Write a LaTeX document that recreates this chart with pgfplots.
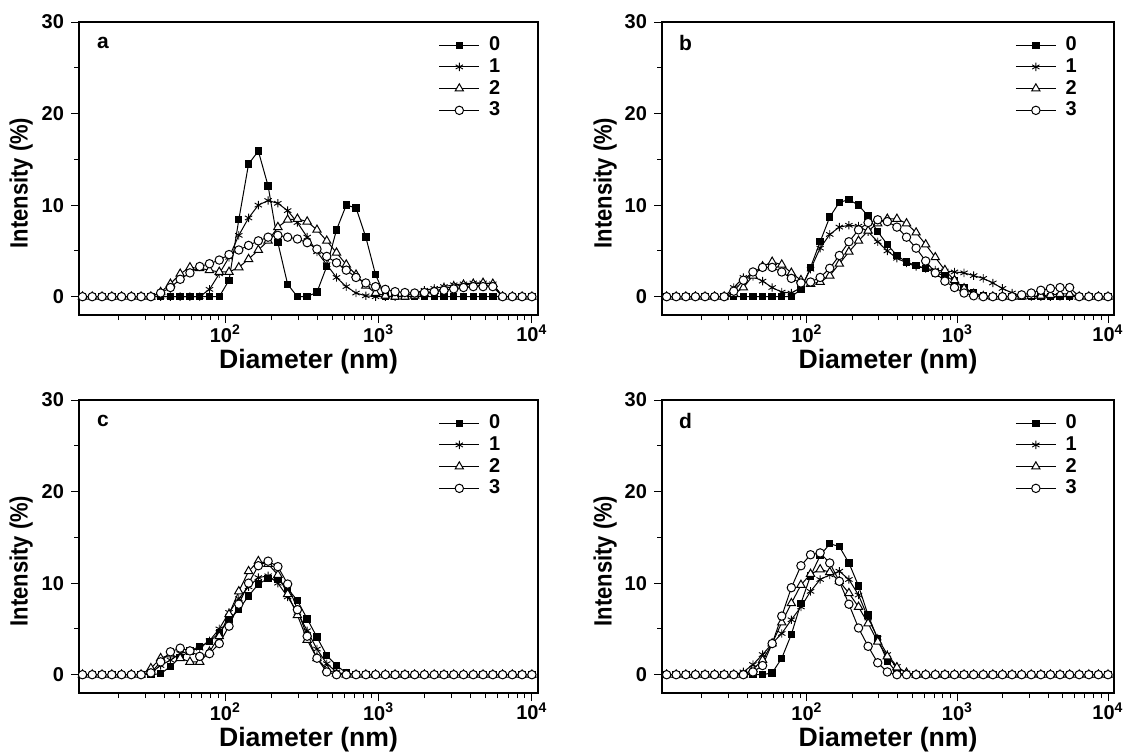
\documentclass[border=0pt]{standalone}
\usepackage{fontspec}
\setmainfont{Liberation Sans}
\usepackage{pgfplots}
\usepackage{pgfplotstable}
\pgfplotsset{compat=1.18}

% DLS intensity distributions, columns: diameter (nm), samples 0..3
\pgfplotstableread{
d s0 s1 s2 s3
11.70 0 0 0 0
13.54 0 0 0 0
15.69 0 0 0 0
18.17 0 0 0 0
21.04 0 0 0 0
24.36 0 0 0 0
28.21 0 0 0 0
32.67 0 0 0 0
37.84 0 0 0.5 0.4
43.82 0 0 1.4 1.0
50.75 0 0 2.5 1.9
58.77 0 0 3.2 2.6
68.06 0 0 3.1 3.3
78.82 0 0.8 2.9 3.6
91.28 0 2.5 2.7 4.0
105.7 1.8 4.3 2.7 4.6
122.4 8.4 6.7 3.2 5.1
141.8 14.5 8.6 4.1 5.6
164.2 15.9 10.0 5.1 6.1
190.1 12.1 10.5 6.1 6.5
220.2 5.9 10.2 7.6 6.7
255.0 1.35 9.4 8.4 6.5
295.3 0 8.1 8.5 6.3
342.0 0 6.5 8.2 5.9
396.1 0.5 4.9 7.3 5.2
458.7 3.3 3.5 6.1 4.4
531.2 7.3 2.1 4.8 3.7
615.1 10.0 1.1 3.5 2.9
712.4 9.7 0.4 2.4 2.1
825.0 6.5 0.1 1.2 1.5
955.4 2.4 0 0.4 1.1
1106 0 0 0.1 0.8
1281 0 0 0 0.55
1484 0 0.1 0 0.45
1718 0 0.4 0.1 0.4
1990 0 0.7 0.3 0.45
2305 0 0.9 0.6 0.55
2669 0 1.1 0.9 0.7
3091 0 1.3 1.1 0.85
3580 0 1.4 1.3 1.0
4145 0 1.5 1.4 1.1
4801 0 1.5 1.5 1.1
5560 0 1.4 1.4 1.1
6439 0 0 0 0
7456 0 0 0 0
8635 0 0 0 0
10000 0 0 0 0
}\dataa

\pgfplotstableread{
d s0 s1 s2 s3
11.70 0 0 0 0
13.54 0 0 0 0
15.69 0 0 0 0
18.17 0 0 0 0
21.04 0 0 0 0
24.36 0 0 0 0
28.21 0 0 0 0
32.67 0 1.0 0.3 0.6
37.84 0 2.1 1.0 1.8
43.82 0 2.2 2.3 2.7
50.75 0 1.7 3.3 3.2
58.77 0 1.0 3.8 3.2
68.06 0 0.5 3.5 2.7
78.82 0 0.4 2.6 2.0
91.28 0.8 1.0 1.8 1.5
105.7 3.2 3.0 1.4 1.6
122.4 6.0 5.3 1.6 2.1
141.8 8.7 6.8 2.3 3.1
164.2 10.3 7.6 3.6 4.5
190.1 10.6 7.8 4.9 6.0
220.2 10.0 7.7 6.1 7.3
255.0 8.8 7.1 7.2 8.1
295.3 7.1 6.0 8.0 8.4
342.0 5.7 5.0 8.5 8.2
396.1 4.5 4.2 8.5 7.6
458.7 3.8 3.7 8.0 6.5
531.2 3.4 3.3 7.0 5.3
615.1 3.1 3.1 5.7 3.9
712.4 2.6 2.9 4.3 2.6
825.0 2.3 2.8 2.9 1.7
955.4 1.7 2.7 1.8 1.0
1106 1.0 2.6 0.9 0.4
1281 0.4 2.3 0.3 0.1
1484 0.1 2.0 0.05 0
1718 0 1.5 0 0
1990 0 0.9 0 0
2305 0 0.4 0 0
2669 0 0.1 0 0.2
3091 0 0 0.05 0.4
3580 0 0 0.1 0.7
4145 0 0 0.2 0.9
4801 0 0 0.3 1.0
5560 0 0 0.3 1.0
6439 0 0 0 0
7456 0 0 0 0
8635 0 0 0 0
10000 0 0 0 0
}\datab

\pgfplotstableread{
d s0 s1 s2 s3
11.70 0 0 0 0
13.54 0 0 0 0
15.69 0 0 0 0
18.17 0 0 0 0
21.04 0 0 0 0
24.36 0 0 0 0
28.21 0 0 0 0
32.67 0 0.2 0.7 0.2
37.84 0.1 1.0 1.8 1.4
43.82 0.9 1.6 2.2 2.5
50.75 1.9 2.3 1.8 2.9
58.77 2.6 2.6 1.4 2.6
68.06 3.1 2.9 1.4 2.0
78.82 3.6 3.7 2.5 2.3
91.28 4.6 5.0 4.2 3.4
105.7 6.0 6.8 6.6 5.3
122.4 7.1 8.3 9.1 7.7
141.8 8.6 9.6 11.3 10.0
164.2 9.9 10.6 12.4 11.9
190.1 10.5 10.8 12.1 12.4
220.2 10.4 10.0 10.9 11.8
255.0 9.4 8.5 8.8 9.9
295.3 8.1 6.8 6.5 7.1
342.0 6.1 4.8 3.8 4.2
396.1 4.1 2.8 1.8 1.8
458.7 2.1 1.2 0.6 0.3
531.2 1.0 0.3 0.1 0
615.1 0.2 0 0 0
712.4 0 0 0 0
825.0 0 0 0 0
955.4 0 0 0 0
1106 0 0 0 0
1281 0 0 0 0
1484 0 0 0 0
1718 0 0 0 0
1990 0 0 0 0
2305 0 0 0 0
2669 0 0 0 0
3091 0 0 0 0
3580 0 0 0 0
4145 0 0 0 0
4801 0 0 0 0
5560 0 0 0 0
6439 0 0 0 0
7456 0 0 0 0
8635 0 0 0 0
10000 0 0 0 0
}\datac

\pgfplotstableread{
d s0 s1 s2 s3
11.70 0 0 0 0
13.54 0 0 0 0
15.69 0 0 0 0
18.17 0 0 0 0
21.04 0 0 0 0
24.36 0 0 0 0
28.21 0 0 0 0
32.67 0 0 0 0
37.84 0 0.3 0 0
43.82 0 1.1 0.6 0.3
50.75 0 2.2 1.6 1.0
58.77 0.2 3.4 3.4 3.4
68.06 1.8 4.5 5.7 6.4
78.82 4.4 6.0 7.8 9.5
91.28 7.8 7.4 9.8 11.9
105.7 10.8 9.1 11.0 13.1
122.4 13.0 10.4 11.5 13.3
141.8 14.3 10.9 11.2 12.2
164.2 14.0 11.3 10.2 10.2
190.1 12.2 10.4 8.9 7.7
220.2 9.7 8.7 7.4 5.1
255.0 6.5 6.2 5.6 3.1
295.3 3.9 4.0 3.6 1.3
342.0 1.5 2.2 2.0 0.3
396.1 0.2 0.9 0.8 0
458.7 0 0.2 0.2 0
531.2 0 0 0 0
615.1 0 0 0 0
712.4 0 0 0 0
825.0 0 0 0 0
955.4 0 0 0 0
1106 0 0 0 0
1281 0 0 0 0
1484 0 0 0 0
1718 0 0 0 0
1990 0 0 0 0
2305 0 0 0 0
2669 0 0 0 0
3091 0 0 0 0
3580 0 0 0 0
4145 0 0 0 0
4801 0 0 0 0
5560 0 0 0 0
6439 0 0 0 0
7456 0 0 0 0
8635 0 0 0 0
10000 0 0 0 0
}\datad

\pgfplotsset{
  dls/.style={
    scale only axis, height=146.5pt,
    ymin=-2, ymax=30,
    ytick={0,10,20,30}, minor ytick={5,15,25},
    xtick={100,1000,10000},
    xticklabels={10\textsuperscript{2},10\textsuperscript{3},10\textsuperscript{4}},
    minor xtick={20,30,40,50,60,70,80,90,200,300,400,500,600,700,800,900,2000,3000,4000,5000,6000,7000,8000,9000},
    tick align=outside, tick pos=left,
    major tick length=4pt, minor tick length=2.5pt,
    tick style={black, line width=0.5pt},
    axis line style={line width=0.6pt},
    tick label style={font=\fontsize{10}{11}\selectfont\bfseries},
    yticklabel style={/pgf/number format/assume math mode=true},
    xticklabel style={yshift=2.5pt},
    xlabel={Diameter (nm)},
    ylabel={\scalebox{0.88}[1]{Intensity (\%)}},
    xlabel style={font=\fontsize{13.3}{15}\selectfont\bfseries,
      at={(axis description cs:0.5,0)}, anchor=center, yshift=-23.5pt},
    ylabel style={font=\fontsize{12.5}{14}\selectfont\bfseries,
      at={(axis description cs:-0.126,0.45)}, anchor=center},
    legend style={draw=none, fill=none, at={(0.921,0.955)}, anchor=north east,
      font=\fontsize{10}{11}\selectfont\bfseries, inner sep=0pt, row sep=1.2pt,
      column sep=4pt, nodes={inner sep=0.6pt}},
    legend cell align=left,
    legend image code/.code={\draw[mark repeat=2,mark phase=2]
      plot coordinates {(0pt,0pt)(10pt,0pt)(20pt,0pt)};},
  },
  sA/.style={black, line width=0.5pt, mark=square*, mark size=1.6pt, mark options={fill=black}},
  sB/.style={black, line width=0.5pt, mark=asterisk, mark size=2.1pt, mark options={line width=0.45pt}},
  sC/.style={black, line width=0.5pt, mark=triangle*, mark size=2.4pt, mark options={fill=white}},
  sD/.style={black, line width=0.5pt, mark=*, mark size=2.1pt, mark options={fill=white}},
}

\begin{document}
\begin{tikzpicture}
\useasboundingbox (0,0) rectangle (562.5pt,-377.5pt);

\begin{semilogxaxis}[dls, width=229.5pt, xmin=11.1, xmax=10960, at={(39.5pt,-11pt)}, anchor=north west]
\addplot[sA] table[x=d,y=s0] {\dataa};
\addplot[sB] table[x=d,y=s1] {\dataa};
\addplot[sC] table[x=d,y=s2] {\dataa};
\addplot[sD] table[x=d,y=s3] {\dataa};
\legend{0,1,2,3}
\node[font=\fontsize{10.5}{12}\selectfont\bfseries] at (rel axis cs:0.052,0.928) {a};
\end{semilogxaxis}

\begin{semilogxaxis}[dls, width=226pt, xmin=10.9, xmax=10960, at={(331pt,-11pt)}, anchor=north west]
\addplot[sA] table[x=d,y=s0] {\datab};
\addplot[sB] table[x=d,y=s1] {\datab};
\addplot[sC] table[x=d,y=s2] {\datab};
\addplot[sD] table[x=d,y=s3] {\datab};
\legend{0,1,2,3}
\node[font=\fontsize{10.5}{12}\selectfont\bfseries] at (rel axis cs:0.052,0.928) {b};
\end{semilogxaxis}

\begin{semilogxaxis}[dls, width=229.5pt, xmin=11.1, xmax=10960, at={(39.5pt,-200pt)}, anchor=north west]
\addplot[sA] table[x=d,y=s0] {\datac};
\addplot[sB] table[x=d,y=s1] {\datac};
\addplot[sC] table[x=d,y=s2] {\datac};
\addplot[sD] table[x=d,y=s3] {\datac};
\legend{0,1,2,3}
\node[font=\fontsize{10.5}{12}\selectfont\bfseries] at (rel axis cs:0.052,0.928) {c};
\end{semilogxaxis}

\begin{semilogxaxis}[dls, width=226pt, xmin=10.9, xmax=10960, at={(331pt,-200pt)}, anchor=north west]
\addplot[sA] table[x=d,y=s0] {\datad};
\addplot[sB] table[x=d,y=s1] {\datad};
\addplot[sC] table[x=d,y=s2] {\datad};
\addplot[sD] table[x=d,y=s3] {\datad};
\legend{0,1,2,3}
\node[font=\fontsize{10.5}{12}\selectfont\bfseries] at (rel axis cs:0.052,0.928) {d};
\end{semilogxaxis}
\end{tikzpicture}
\end{document}
